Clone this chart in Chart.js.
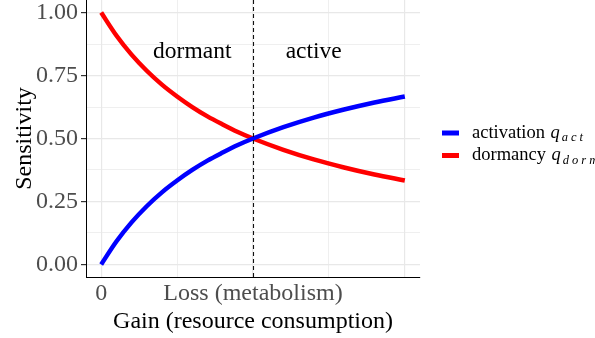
<!DOCTYPE html>
<html>
<head>
<meta charset="utf-8">
<script src="https://cdn.jsdelivr.net/npm/chart.js@4/dist/chart.umd.min.js"></script>
<style>
  html, body { margin: 0; padding: 0; background: #fff; }
  #wrap { width: 595px; height: 338px; }
</style>
</head>
<body>
<div id="wrap"><canvas id="myChart" width="595" height="338"></canvas></div>
<script>
// gain along the x axis, in units of the loss
var gain = [0, 0.1, 0.2, 0.3, 0.4, 0.5, 0.6, 0.7, 0.8, 0.9, 1.0, 1.2, 1.4, 1.6, 1.8, 2.0];
var activation = [0, 0.091, 0.167, 0.231, 0.286, 0.333, 0.375, 0.412, 0.444, 0.474, 0.5, 0.545, 0.583, 0.615, 0.643, 0.667];
var dormancy = [1, 0.909, 0.833, 0.769, 0.714, 0.667, 0.625, 0.588, 0.556, 0.526, 0.5, 0.455, 0.417, 0.385, 0.357, 0.333];

var lossValue = 1;
var xTicks = [0, 0.5, 1, 1.5, 2];
var xMajor = [0, 1, 2];
var xTickLabels = { 0: '0', 1: 'Loss (metabolism)' };
var yTicks = [0, 0.125, 0.25, 0.375, 0.5, 0.625, 0.75, 0.875, 1];
var yMajor = [0, 0.25, 0.5, 0.75, 1];

var regionLabels = ['dormant', 'active'];
var regionX = [0.6, 1.4];
var regionY = 0.845;

var serif = '"Liberation Serif", "Times New Roman", serif';

function toPoints(xs, ys) {
    return xs.map(function(x, i) { return { x: x, y: ys[i] }; });
}

// dashed line at gain = loss, and the two region labels
var regionPlugin = {
    id: 'regions',
    afterDatasetsDraw: function(chart) {
        var ctx = chart.ctx;
        var xs = chart.scales.x, ys = chart.scales.y;
        var area = chart.chartArea;
        var px = Math.round(xs.getPixelForValue(lossValue)) + 0.5;
        ctx.save();
        ctx.strokeStyle = '#111';
        ctx.lineWidth = 1.1;
        ctx.setLineDash([4, 3]);
        ctx.beginPath();
        ctx.moveTo(px, area.top);
        ctx.lineTo(px, area.bottom);
        ctx.stroke();
        ctx.setLineDash([]);
        ctx.fillStyle = '#000';
        ctx.font = '23.5px ' + serif;
        ctx.textAlign = 'center';
        ctx.textBaseline = 'middle';
        regionLabels.forEach(function(t, i) {
            ctx.fillText(t, xs.getPixelForValue(regionX[i]), ys.getPixelForValue(regionY));
        });
        ctx.restore();
    }
};

// legend on the right, with italic q and a spaced subscript
var legendPlugin = {
    id: 'sideLegend',
    afterDraw: function(chart) {
        var ctx = chart.ctx;
        ctx.save();
        chart.data.datasets.forEach(function(ds, i) {
            var y = 133 + i * 22.5;
            ctx.strokeStyle = ds.borderColor;
            ctx.lineWidth = 5;
            ctx.beginPath();
            ctx.moveTo(442, y);
            ctx.lineTo(459, y);
            ctx.stroke();

            var base = y + 4.5;
            var x = 472;
            ctx.fillStyle = '#000';
            ctx.textBaseline = 'alphabetic';
            ctx.textAlign = 'left';
            ctx.font = '18.5px ' + serif;
            ctx.fillText(ds.label + ' ', x, base);
            x += ctx.measureText(ds.label + ' ').width + 1;
            ctx.font = 'italic 18.5px ' + serif;
            ctx.fillText('q', x, base);
            x += ctx.measureText('q').width + 2;
            ctx.font = 'italic 12.5px ' + serif;
            ds.sub.split('').forEach(function(ch) {
                ctx.fillText(ch, x, base + 3.5);
                x += ctx.measureText(ch).width + 3;
            });
        });
        ctx.restore();
    }
};

var ctx = document.getElementById('myChart').getContext('2d');
var myChart = new Chart(ctx, {
    type: 'line',
    data: {
        datasets: [{
            label: 'activation',
            sub: 'act',
            data: toPoints(gain, activation),
            borderColor: '#0000FF',
            borderWidth: 4.5,
            pointRadius: 0,
            cubicInterpolationMode: 'monotone',
            fill: false
        }, {
            label: 'dormancy',
            sub: 'dorm',
            data: toPoints(gain, dormancy),
            borderColor: '#FF0000',
            borderWidth: 4.5,
            pointRadius: 0,
            cubicInterpolationMode: 'monotone',
            fill: false
        }]
    },
    options: {
        responsive: false,
        animation: false,
        layout: { padding: { left: 0, right: 175, top: 0, bottom: 0 } },
        plugins: {
            legend: { display: false },
            tooltip: { enabled: false }
        },
        scales: {
            x: {
                type: 'linear',
                min: -0.1,
                max: 2.1,
                afterBuildTicks: function(scale) {
                    scale.ticks = xTicks.map(function(v) { return { value: v }; });
                },
                afterFit: function(scale) {
                    scale.height = 61;
                    scale.paddingLeft = 0;
                    scale.paddingRight = 0;
                },
                ticks: {
                    autoSkip: false,
                    maxRotation: 0,
                    padding: 2,
                    color: '#4D4D4D',
                    font: { family: serif, size: 24 },
                    callback: function(v) { return xTickLabels[v] || ''; }
                },
                grid: {
                    color: '#E8E8E8',
                    lineWidth: function(c) { return xMajor.indexOf(c.tick && c.tick.value) >= 0 ? 1.2 : 0.7; },
                    drawTicks: false
                },
                border: { display: true, color: '#000', width: 1 },
                title: {
                    display: true,
                    text: 'Gain (resource consumption)',
                    color: '#000',
                    font: { family: serif, size: 24 },
                    padding: { top: 0, bottom: 2 }
                }
            },
            y: {
                type: 'linear',
                min: -0.05,
                max: 1.05,
                afterBuildTicks: function(scale) {
                    scale.ticks = yTicks.map(function(v) { return { value: v }; });
                },
                afterFit: function(scale) {
                    scale.width = 86;
                    scale.paddingTop = 0;
                    scale.paddingBottom = 0;
                },
                ticks: {
                    autoSkip: false,
                    padding: 3,
                    color: '#4D4D4D',
                    font: { family: serif, size: 24 },
                    callback: function(v) { return yMajor.indexOf(v) >= 0 ? v.toFixed(2) : ''; }
                },
                grid: {
                    color: '#E8E8E8',
                    lineWidth: function(c) { return yMajor.indexOf(c.tick && c.tick.value) >= 0 ? 1.2 : 0.7; },
                    tickColor: function(c) { return yMajor.indexOf(c.tick && c.tick.value) >= 0 ? '#333' : 'rgba(0,0,0,0)'; },
                    tickLength: 5
                },
                border: { display: true, color: '#000', width: 1 },
                title: {
                    display: true,
                    text: 'Sensitivity',
                    color: '#000',
                    font: { family: serif, size: 24 },
                    padding: { top: 10.5, bottom: 0 }
                }
            }
        }
    },
    plugins: [regionPlugin, legendPlugin]
});
</script>
</body>
</html>
